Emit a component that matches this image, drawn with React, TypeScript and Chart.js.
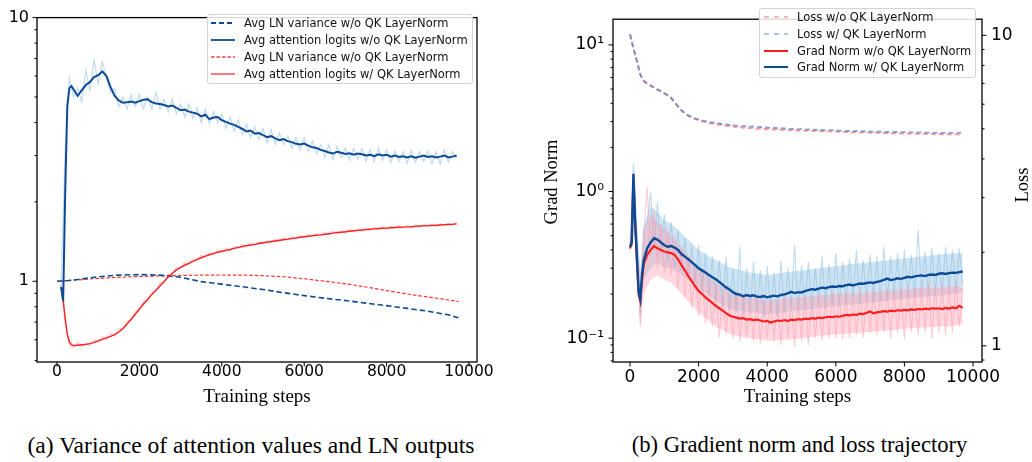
import React, { useEffect, useRef } from 'react';
import { Chart, registerables } from 'chart.js';

Chart.register(...registerables);

// ---------------- shared ----------------
const X_TICKS = [0, 2000, 4000, 6000, 8000, 10000];

// ---------------- panel (a) data ----------------
const A_Y_MAJOR = [1, 10];
const A_Y_LABELS = ['1', '10'];
const A_Y_MINOR = [0.5, 0.6, 0.7, 0.8, 0.9, 2, 3, 4, 5, 6, 7, 8, 9];

const LN_VAR_STEPS = [0, 250, 500, 1000, 1500, 2000, 2500, 3000, 3500, 4000, 4500, 5000, 5500, 6000, 6500, 7000, 7500, 8000, 8500, 9000, 9500, 9750];
const LN_VAR_WO_BLUE = [1.0, 1.005, 1.015, 1.04, 1.055, 1.06, 1.055, 1.035, 0.997, 0.975, 0.953, 0.93, 0.905, 0.882, 0.862, 0.845, 0.826, 0.808, 0.789, 0.77, 0.746, 0.726];
const LN_VAR_WO_RED = [1.0, 1.006, 1.012, 1.025, 1.035, 1.043, 1.048, 1.052, 1.055, 1.056, 1.055, 1.05, 1.04, 1.022, 1.0, 0.978, 0.951, 0.922, 0.895, 0.872, 0.849, 0.837];

const ATT_HEAD_STEPS = [100, 150, 200, 250, 300, 350];
const ATT_TAIL_START = 400;
const ATT_WO_HEAD = [0.95, 0.84, 2.2, 4.6, 5.4, 5.5];
const ATT_WO_TAIL = [
  5.35, 5.05, 5.3, 5.55, 5.7, 5.95, 6.05, 6.25, 6.0, 5.45,
  5.05, 4.85, 4.75, 4.77, 4.8, 4.76, 4.82, 4.88, 4.9, 4.78,
  4.72, 4.7, 4.66, 4.6, 4.64, 4.55, 4.45, 4.48, 4.4, 4.36,
  4.32, 4.22, 4.28, 4.12, 4.18, 4.2, 4.08, 4.02, 3.96, 3.92,
  3.85, 3.78, 3.7, 3.73, 3.63, 3.65, 3.58, 3.52, 3.55, 3.48,
  3.43, 3.46, 3.4, 3.37, 3.32, 3.3, 3.33, 3.27, 3.22, 3.2,
  3.15, 3.12, 3.08, 3.05, 3.1, 3.07, 3.04, 3.06, 3.02, 3.05,
  3.03, 3.0, 3.02, 2.98, 3.03, 3.0, 3.02, 2.97, 3.0, 2.96,
  2.98, 2.95, 2.98, 2.94, 2.97, 3.0, 2.96, 2.98, 2.95, 2.97,
  3.0, 2.95, 2.97, 3.0,
];
const ATT_W_HEAD = [0.95, 0.85, 0.72, 0.63, 0.59, 0.575];
const ATT_W_TAIL = [
  0.57, 0.572, 0.574, 0.576, 0.58, 0.586, 0.594, 0.602, 0.61, 0.618,
  0.627, 0.642, 0.662, 0.688, 0.718, 0.75, 0.785, 0.82, 0.855, 0.89,
  0.925, 0.96, 0.998, 1.038, 1.073, 1.104, 1.13, 1.15, 1.17, 1.19,
  1.21, 1.228, 1.245, 1.26, 1.275, 1.288, 1.3, 1.31, 1.32, 1.333,
  1.345, 1.355, 1.365, 1.372, 1.38, 1.39, 1.4, 1.405, 1.415, 1.422,
  1.43, 1.437, 1.445, 1.452, 1.46, 1.468, 1.475, 1.482, 1.49, 1.495,
  1.5, 1.508, 1.515, 1.522, 1.53, 1.535, 1.54, 1.548, 1.555, 1.56,
  1.565, 1.57, 1.575, 1.58, 1.585, 1.588, 1.59, 1.595, 1.6, 1.602,
  1.605, 1.608, 1.61, 1.615, 1.62, 1.622, 1.625, 1.628, 1.63, 1.635,
  1.64, 1.642, 1.645, 1.65,
];
const ATT_RAW_START = 100;
const ATT_WO_RAW = [
  0.95, 3.2, 5.9, 5.0, 5.4, 4.8, 6.3, 5.3, 6.9, 5.6,
  6.8, 6.0, 5.2, 5.4, 4.6, 5.0, 4.5, 5.1, 4.6, 5.1,
  4.5, 5.0, 4.5, 5.2, 4.5, 4.9, 4.4, 4.9, 4.3, 4.7,
  4.2, 4.7, 4.15, 4.55, 4.0, 4.5, 3.95, 4.4, 4.0, 4.3,
  3.8, 4.2, 3.7, 4.1, 3.6, 3.95, 3.5, 3.85, 3.45, 3.8,
  3.35, 3.75, 3.3, 3.65, 3.3, 3.55, 3.2, 3.5, 3.15, 3.5,
  3.1, 3.4, 3.05, 3.3, 2.95, 3.3, 2.9, 3.25, 2.95, 3.2,
  2.88, 3.2, 2.9, 3.18, 2.85, 3.15, 2.85, 3.2, 2.87, 3.15,
  2.82, 3.12, 2.85, 3.1, 2.8, 3.12, 2.82, 3.1, 2.85, 3.12,
  2.8, 3.1, 2.78, 3.15, 2.82, 3.1, 2.9,
];
const ATT_W_RAW = [
  0.97, 0.7, 0.57, 0.56, 0.585, 0.565, 0.585, 0.57, 0.6, 0.585,
  0.615, 0.6, 0.635, 0.62, 0.66, 0.655, 0.705, 0.71, 0.765, 0.775,
  0.84, 0.845, 0.91, 0.915, 0.985, 0.99, 1.065, 1.06, 1.13, 1.115,
  1.175, 1.155, 1.215, 1.195, 1.255, 1.23, 1.285, 1.26, 1.315, 1.285,
  1.335, 1.305, 1.36, 1.33, 1.38, 1.35, 1.395, 1.37, 1.41, 1.385,
  1.43, 1.4, 1.445, 1.415, 1.46, 1.43, 1.475, 1.445, 1.49, 1.46,
  1.505, 1.475, 1.515, 1.49, 1.53, 1.5, 1.545, 1.515, 1.555, 1.525,
  1.57, 1.54, 1.58, 1.55, 1.59, 1.56, 1.6, 1.57, 1.61, 1.575,
  1.615, 1.585, 1.625, 1.59, 1.63, 1.595, 1.635, 1.6, 1.64, 1.61,
  1.645, 1.615, 1.65, 1.62, 1.66, 1.63, 1.67,
];

// ---------------- panel (b) data ----------------
const B_GN_MAJOR = [0.1, 1, 10];
const B_GN_LABELS = ['10\u207B\u00B9', '10\u2070', '10\u00B9'];
const B_GN_MINOR = [0.07, 0.08, 0.09, 0.2, 0.3, 0.4, 0.5, 0.6, 0.7, 0.8, 0.9, 2, 3, 4, 5, 6, 7, 8, 9];
const B_LOSS_MAJOR = [1, 10];
const B_LOSS_LABELS = ['1', '10'];
const B_LOSS_MINOR = [0.9, 2, 3, 4, 5, 6, 7, 8, 9];

const LOSS_START = 0;
const LOSS_WO = [
  10.1, 9.1, 8.3, 7.5, 7.15, 7.0, 6.9, 6.8, 6.7, 6.62,
  6.52, 6.42, 6.3, 6.1, 5.9, 5.72, 5.6, 5.5, 5.43, 5.37,
  5.33, 5.28, 5.26, 5.21, 5.2, 5.16, 5.16, 5.12, 5.12, 5.09,
  5.09, 5.06, 5.07, 5.04, 5.05, 5.02, 5.03, 5.0, 5.01, 4.99,
  5.0, 4.97, 4.98, 4.96, 4.97, 4.95, 4.96, 4.94, 4.95, 4.93,
  4.95, 4.93, 4.94, 4.92, 4.93, 4.91, 4.92, 4.9, 4.91, 4.9,
  4.9, 4.89, 4.89, 4.88, 4.88, 4.87, 4.88, 4.86, 4.87, 4.86,
  4.86, 4.85, 4.86, 4.84, 4.85, 4.84, 4.84, 4.83, 4.84, 4.83,
  4.83, 4.82, 4.83, 4.82, 4.82, 4.81, 4.82, 4.81, 4.81, 4.8,
  4.81, 4.8, 4.8, 4.8, 4.79, 4.8, 4.79, 4.8,
];
const LOSS_W = [
  10.05, 9.05, 8.25, 7.45, 7.12, 6.98, 6.88, 6.78, 6.68, 6.6,
  6.5, 6.4, 6.28, 6.08, 5.9, 5.74, 5.62, 5.53, 5.46, 5.4,
  5.36, 5.32, 5.29, 5.26, 5.24, 5.21, 5.2, 5.17, 5.17, 5.14,
  5.14, 5.12, 5.12, 5.1, 5.1, 5.08, 5.09, 5.06, 5.07, 5.05,
  5.05, 5.03, 5.04, 5.02, 5.02, 5.01, 5.01, 4.99, 5.0, 4.98,
  4.99, 4.97, 4.98, 4.96, 4.97, 4.95, 4.96, 4.94, 4.95, 4.94,
  4.94, 4.93, 4.93, 4.92, 4.92, 4.91, 4.92, 4.9, 4.91, 4.9,
  4.9, 4.89, 4.9, 4.89, 4.89, 4.88, 4.89, 4.88, 4.88, 4.87,
  4.88, 4.87, 4.87, 4.87, 4.86, 4.87, 4.86, 4.86, 4.86, 4.85,
  4.86, 4.85, 4.86, 4.85, 4.85, 4.86, 4.85, 4.87,
];

const GN_HEAD_STEPS = [0, 50, 100, 150, 200, 250, 300, 350];
const GN_TAIL_START = 400;
const GN_W_HEAD = [0.42, 0.45, 1.32, 0.62, 0.36, 0.21, 0.185, 0.27];
const GN_W_TAIL = [
  0.34, 0.41, 0.45, 0.48, 0.47, 0.45, 0.43, 0.42, 0.425, 0.415,
  0.4, 0.375, 0.36, 0.345, 0.33, 0.315, 0.3, 0.29, 0.28, 0.27,
  0.26, 0.252, 0.242, 0.232, 0.222, 0.215, 0.206, 0.2, 0.198, 0.193,
  0.197, 0.194, 0.196, 0.192, 0.191, 0.194, 0.19, 0.193, 0.195, 0.193,
  0.197, 0.199, 0.202, 0.207, 0.203, 0.206, 0.205, 0.209, 0.213, 0.216,
  0.214, 0.218, 0.221, 0.219, 0.223, 0.225, 0.224, 0.227, 0.226, 0.23,
  0.232, 0.229, 0.233, 0.236, 0.235, 0.238, 0.24, 0.238, 0.242, 0.245,
  0.25, 0.255, 0.249, 0.252, 0.256, 0.254, 0.258, 0.262, 0.26, 0.264,
  0.266, 0.268, 0.265, 0.27, 0.272, 0.27, 0.275, 0.277, 0.274, 0.278,
  0.28, 0.279, 0.282, 0.285,
];
const GN_WO_HEAD = [0.41, 0.44, 1.2, 0.6, 0.34, 0.2, 0.18, 0.25];
const GN_WO_TAIL = [
  0.32, 0.37, 0.4, 0.425, 0.41, 0.4, 0.39, 0.385, 0.38, 0.37,
  0.345, 0.315, 0.29, 0.265, 0.245, 0.226, 0.21, 0.2, 0.19, 0.182,
  0.174, 0.166, 0.16, 0.154, 0.148, 0.143, 0.14, 0.138, 0.136, 0.137,
  0.134, 0.135, 0.133, 0.134, 0.132, 0.13, 0.131, 0.128, 0.13, 0.132,
  0.131, 0.133, 0.131, 0.134, 0.133, 0.135, 0.134, 0.136, 0.135, 0.137,
  0.136, 0.138, 0.137, 0.139, 0.14, 0.139, 0.141, 0.14, 0.142, 0.144,
  0.143, 0.145, 0.144, 0.147, 0.146, 0.149, 0.152, 0.148, 0.15, 0.151,
  0.153, 0.152, 0.154, 0.153, 0.155, 0.154, 0.156, 0.155, 0.157, 0.156,
  0.158, 0.157, 0.159, 0.158, 0.16, 0.159, 0.16, 0.158, 0.161, 0.159,
  0.162, 0.16, 0.166, 0.161,
];
const GN_RAW_START = 0;
const GN_W_RAW = [
  0.42, 1.55, 0.5, 0.14, 0.55, 0.62, 1.0, 0.4, 0.85, 0.38,
  0.7, 0.33, 0.62, 0.3, 0.55, 0.29, 0.48, 0.26, 0.42, 0.24,
  0.43, 0.21, 0.38, 0.2, 0.36, 0.18, 0.34, 0.16, 0.36, 0.155,
  0.3, 0.15, 0.42, 0.14, 0.3, 0.145, 0.33, 0.15, 0.29, 0.14,
  0.31, 0.15, 0.28, 0.14, 0.34, 0.15, 0.3, 0.16, 0.43, 0.15,
  0.31, 0.16, 0.33, 0.155, 0.3, 0.17, 0.36, 0.16, 0.32, 0.17,
  0.38, 0.165, 0.33, 0.17, 0.35, 0.18, 0.4, 0.17, 0.34, 0.18,
  0.37, 0.175, 0.36, 0.18, 0.42, 0.18, 0.36, 0.19, 0.38, 0.185,
  0.4, 0.19, 0.37, 0.19, 0.55, 0.2, 0.39, 0.19, 0.41, 0.2,
  0.38, 0.2, 0.42, 0.21, 0.4, 0.2, 0.41, 0.23,
];
const GN_WO_RAW = [
  0.4, 1.2, 0.45, 0.12, 0.5, 1.08, 0.35, 0.75, 0.3, 0.6,
  0.28, 0.55, 0.27, 0.5, 0.22, 0.42, 0.19, 0.36, 0.16, 0.3,
  0.14, 0.28, 0.125, 0.24, 0.12, 0.23, 0.1, 0.2, 0.105, 0.19,
  0.1, 0.2, 0.095, 0.19, 0.1, 0.18, 0.095, 0.19, 0.092, 0.18,
  0.1, 0.19, 0.095, 0.18, 0.09, 0.2, 0.1, 0.18, 0.088, 0.19,
  0.095, 0.2, 0.09, 0.19, 0.1, 0.2, 0.096, 0.19, 0.1, 0.21,
  0.1, 0.2, 0.098, 0.21, 0.1, 0.2, 0.105, 0.22, 0.1, 0.21,
  0.11, 0.22, 0.105, 0.21, 0.11, 0.22, 0.1, 0.21, 0.11, 0.22,
  0.098, 0.23, 0.11, 0.22, 0.105, 0.23, 0.11, 0.24, 0.1, 0.23,
  0.11, 0.24, 0.105, 0.23, 0.11, 0.25, 0.12, 0.22,
];
// typical spread (envelope) of the raw grad-norm traces
const GN_ENV_STEPS = [0, 100, 200, 300, 400, 600, 800, 1000, 1200, 1500, 2000, 2500, 3000, 3500, 4000, 4500, 5000, 5500, 6000, 6500, 7000, 7500, 8000, 8500, 9000, 9500, 9700];
const GN_W_UPPER = [0.43, 1.5, 0.6, 0.3, 0.58, 0.8, 0.72, 0.64, 0.6, 0.52, 0.4, 0.34, 0.3, 0.28, 0.27, 0.28, 0.29, 0.3, 0.31, 0.32, 0.33, 0.34, 0.35, 0.36, 0.37, 0.38, 0.38];
const GN_W_LOWER = [0.41, 1.0, 0.35, 0.14, 0.25, 0.3, 0.33, 0.3, 0.3, 0.27, 0.22, 0.18, 0.155, 0.15, 0.145, 0.15, 0.155, 0.16, 0.165, 0.17, 0.175, 0.18, 0.185, 0.19, 0.195, 0.2, 0.21];
const GN_WO_UPPER = [0.42, 1.2, 0.5, 0.25, 0.52, 0.7, 0.62, 0.56, 0.5, 0.42, 0.3, 0.24, 0.2, 0.19, 0.18, 0.185, 0.19, 0.195, 0.2, 0.2, 0.205, 0.21, 0.215, 0.22, 0.22, 0.225, 0.22];
const GN_WO_LOWER = [0.4, 0.9, 0.3, 0.12, 0.2, 0.25, 0.27, 0.25, 0.24, 0.2, 0.15, 0.12, 0.105, 0.1, 0.096, 0.097, 0.1, 0.103, 0.106, 0.108, 0.11, 0.113, 0.116, 0.118, 0.12, 0.122, 0.125];

// ---------------- colours ----------------
const DARK_BLUE = '#0d4a96';
const RED = '#ff1f1f';
const LIGHT_BLUE_BAND = 'rgba(150,195,230,0.6)';
const PINK_BAND = 'rgba(255,165,180,0.55)';
const GN_BLUE_RAW = 'rgba(140,190,225,0.55)';
const GN_PINK_RAW = 'rgba(255,160,178,0.55)';
const GN_BLUE_FILL = 'rgba(140,190,225,0.42)';
const GN_PINK_FILL = 'rgba(255,160,178,0.42)';
const LOSS_PINK = 'rgba(255,90,90,0.6)';
const LOSS_BLUE = 'rgba(60,110,190,0.6)';

// ---------------- helpers ----------------
const seq = (start: number, stride: number, n: number) => Array.from({ length: n }, (_, i) => start + i * stride);
const toPoints = (steps: number[], vals: number[]) => vals.map((y, i) => ({ x: steps[i], y }));
const headTail = (hs: number[], hv: number[], start: number, tv: number[]) =>
  toPoints([...hs, ...seq(start, 100, tv.length)], [...hv, ...tv]);
const uniform = (start: number, vals: number[]) => toPoints(seq(start, 100, vals.length), vals);

type TickSpec = { id: string; side: 'left' | 'right' | 'bottom'; major: number[]; minor: number[] };

const makeFramePlugin = (specs: TickSpec[]) => ({
  id: 'frameTicks',
  afterDraw(chart: any) {
    const { ctx, chartArea: a } = chart;
    ctx.save();
    ctx.strokeStyle = '#000';
    ctx.lineWidth = 1;
    for (const s of specs) {
      const scale = chart.scales[s.id];
      const draw = (v: number, len: number) => {
        const p = scale.getPixelForValue(v);
        if (s.side === 'bottom') {
          if (p < a.left - 0.5 || p > a.right + 0.5) return;
          ctx.beginPath();
          ctx.moveTo(p, a.bottom);
          ctx.lineTo(p, a.bottom + len);
          ctx.stroke();
        } else {
          if (p < a.top - 0.5 || p > a.bottom + 0.5) return;
          ctx.beginPath();
          if (s.side === 'left') {
            ctx.moveTo(a.left, p);
            ctx.lineTo(a.left - len, p);
          } else {
            ctx.moveTo(a.right, p);
            ctx.lineTo(a.right + len, p);
          }
          ctx.stroke();
        }
      };
      s.major.forEach((v) => draw(v, 4.5));
      s.minor.forEach((v) => draw(v, 2.5));
    }
    ctx.lineWidth = 1.3;
    ctx.strokeRect(a.left, a.top, a.right - a.left, a.bottom - a.top);
    ctx.restore();
  },
});

const tickFont = (size: number) => ({ family: 'DejaVu Sans', size });
const titleFont = { family: 'Liberation Serif', size: 19 };

const xScale = (min: number, max: number, fontSize: number, pad: number) => ({
  type: 'linear',
  min,
  max,
  afterBuildTicks: (s: any) => {
    s.ticks = X_TICKS.map((v) => ({ value: v }));
  },
  afterFit: (s: any) => {
    s.height = 58;
  },
  grid: { display: false, drawTicks: false },
  border: { display: false },
  ticks: {
    autoSkip: false,
    maxRotation: 0,
    padding: pad,
    color: '#000',
    font: tickFont(fontSize),
    callback: (v: any) => String(v),
  },
  title: {
    display: true,
    text: 'Training steps',
    color: '#000',
    font: titleFont,
    padding: { top: 0, bottom: 11.5 },
  },
});

const logScale = (
  min: number,
  max: number,
  major: number[],
  labels: string[],
  width: number,
  position: string,
  fontSize: number,
  pad: number,
) => ({
  type: 'logarithmic',
  position,
  min,
  max,
  afterBuildTicks: (s: any) => {
    s.ticks = major.map((v) => ({ value: v }));
  },
  afterFit: (s: any) => {
    s.width = width;
  },
  grid: { display: false, drawTicks: false },
  border: { display: false },
  ticks: {
    autoSkip: false,
    padding: pad,
    color: '#000',
    font: tickFont(fontSize),
    callback: (v: any) => {
      const i = major.indexOf(Number(v));
      return i >= 0 ? labels[i] : '';
    },
  },
});

const line = (data: any[], color: string, width: number, order: number, dash: number[] = [], yAxisID = 'y') => ({
  data,
  borderColor: color,
  backgroundColor: color,
  borderWidth: width,
  borderDash: dash,
  pointRadius: 0,
  tension: 0,
  fill: false,
  order,
  yAxisID,
});

const band = (steps: number[], upper: number[], lower: number[], color: string, order: number) => [
  {
    data: toPoints(steps, upper),
    borderWidth: 0,
    borderColor: 'rgba(0,0,0,0)',
    backgroundColor: color,
    pointRadius: 0,
    tension: 0,
    fill: '+1',
    order,
    yAxisID: 'y',
  },
  {
    data: toPoints(steps, lower),
    borderWidth: 0,
    borderColor: 'rgba(0,0,0,0)',
    backgroundColor: 'rgba(0,0,0,0)',
    pointRadius: 0,
    tension: 0,
    fill: false,
    order,
    yAxisID: 'y',
  },
];

// ---------------- legend (HTML) ----------------
type LegendRow = { label: string; color: string; dash: number[]; width: number };
const A_LEGEND: LegendRow[] = [
  { label: 'Avg LN variance w/o QK LayerNorm', color: DARK_BLUE, dash: [5, 3], width: 1.8 },
  { label: 'Avg attention logits w/o QK LayerNorm', color: DARK_BLUE, dash: [], width: 1.8 },
  { label: 'Avg LN variance w/o QK LayerNorm', color: '#ff4040', dash: [3.5, 2], width: 1.3 },
  { label: 'Avg attention logits w/ QK LayerNorm', color: '#ff5a5a', dash: [], width: 1.6 },
];
const B_LEGEND: LegendRow[] = [
  { label: 'Loss w/o QK LayerNorm', color: '#ff9a9a', dash: [5, 5], width: 1.5 },
  { label: 'Loss w/ QK LayerNorm', color: '#8fadd8', dash: [5, 5], width: 1.5 },
  { label: 'Grad Norm w/o QK LayerNorm', color: RED, dash: [], width: 2 },
  { label: 'Grad Norm w/ QK LayerNorm', color: DARK_BLUE, dash: [], width: 2 },
];

function Legend(props: {
  left: number;
  top: number;
  width: number;
  height: number;
  rows: LegendRow[];
  firstY: number;
  gap: number;
  sampleX: number;
  textX: number;
}) {
  const { left, top, width, height, rows, firstY, gap, sampleX, textX } = props;
  return (
    <div
      style={{
        position: 'absolute',
        left,
        top,
        width,
        height,
        boxSizing: 'border-box',
        border: '1px solid #d4d4d4',
        borderRadius: 3,
        background: 'rgba(255,255,255,0.85)',
      }}
    >
      {rows.map((r, i) => {
        const cy = firstY + i * gap - 1;
        return (
          <React.Fragment key={i}>
            <svg width={24} height={6} style={{ position: 'absolute', left: sampleX - 1, top: cy - 3 }}>
              <line
                x1={0}
                y1={3}
                x2={24}
                y2={3}
                stroke={r.color}
                strokeWidth={r.width}
                strokeDasharray={r.dash.length ? r.dash.join(' ') : undefined}
              />
            </svg>
            <div
              style={{
                position: 'absolute',
                left: textX - 1,
                top: cy - 8,
                height: 16,
                lineHeight: '16px',
                fontFamily: 'DejaVu Sans',
                fontSize: 11.5,
                color: '#111',
                whiteSpace: 'nowrap',
              }}
            >
              {r.label}
            </div>
          </React.Fragment>
        );
      })}
    </div>
  );
}

export default function App() {
  const leftRef = useRef<HTMLCanvasElement | null>(null);
  const rightRef = useRef<HTMLCanvasElement | null>(null);

  useEffect(() => {
    const common = {
      responsive: false,
      animation: false,
      events: [],
      plugins: { legend: { display: false }, tooltip: { enabled: false } },
    };

    const left = new Chart(leftRef.current as HTMLCanvasElement, {
      type: 'line',
      data: {
        datasets: [
          line(headTail(ATT_HEAD_STEPS, ATT_WO_HEAD, ATT_TAIL_START, ATT_WO_TAIL), DARK_BLUE, 2, 0),
          line(headTail(ATT_HEAD_STEPS, ATT_W_HEAD, ATT_TAIL_START, ATT_W_TAIL), RED, 1.4, 1),
          line(toPoints(LN_VAR_STEPS, LN_VAR_WO_BLUE), DARK_BLUE, 1.6, 2, [5.5, 3]),
          line(toPoints(LN_VAR_STEPS, LN_VAR_WO_RED), '#ff3030', 1.2, 3, [3.5, 2]),
          line(uniform(ATT_RAW_START, ATT_W_RAW), PINK_BAND, 1.4, 4),
          line(uniform(ATT_RAW_START, ATT_WO_RAW), LIGHT_BLUE_BAND, 1.2, 5),
        ],
      },
      options: {
        ...common,
        layout: { padding: { top: 8, right: 33, left: 0, bottom: 0 } },
        scales: {
          x: xScale(-485, 10194, 15.5, 1),
          y: logScale(0.494, 10, A_Y_MAJOR, A_Y_LABELS, 37, 'left', 16, 8),
        },
      },
      plugins: [
        makeFramePlugin([
          { id: 'x', side: 'bottom', major: X_TICKS, minor: [] },
          { id: 'y', side: 'left', major: A_Y_MAJOR, minor: A_Y_MINOR },
        ]),
      ],
    } as any);

    const right = new Chart(rightRef.current as HTMLCanvasElement, {
      type: 'line',
      data: {
        datasets: [
          line(headTail(GN_HEAD_STEPS, GN_W_HEAD, GN_TAIL_START, GN_W_TAIL), DARK_BLUE, 2.4, 0),
          line(headTail(GN_HEAD_STEPS, GN_WO_HEAD, GN_TAIL_START, GN_WO_TAIL), RED, 2.2, 1),
          line(uniform(LOSS_START, LOSS_W), LOSS_BLUE, 1.9, 2, [5, 3], 'y2'),
          line(uniform(LOSS_START, LOSS_WO), LOSS_PINK, 1.9, 3, [5, 3], 'y2'),
          line(uniform(GN_RAW_START, GN_WO_RAW), GN_PINK_RAW, 1.1, 4),
          line(uniform(GN_RAW_START, GN_W_RAW), GN_BLUE_RAW, 1.1, 5),
          ...band(GN_ENV_STEPS, GN_WO_UPPER, GN_WO_LOWER, GN_PINK_FILL, 6),
          ...band(GN_ENV_STEPS, GN_W_UPPER, GN_W_LOWER, GN_BLUE_FILL, 7),
        ],
      },
      options: {
        ...common,
        layout: { padding: { top: 2, right: 10, left: 0, bottom: 0 } },
        scales: {
          x: xScale(-496, 10262, 17, 5),
          y: logScale(0.0688, 14.97, B_GN_MAJOR, B_GN_LABELS, 93, 'left', 17, 9),
          y2: logScale(0.887, 11.27, B_LOSS_MAJOR, B_LOSS_LABELS, 40, 'right', 17, 9),
        },
      },
      plugins: [
        makeFramePlugin([
          { id: 'x', side: 'bottom', major: X_TICKS, minor: [] },
          { id: 'y', side: 'left', major: B_GN_MAJOR, minor: B_GN_MINOR },
          { id: 'y2', side: 'right', major: B_LOSS_MAJOR, minor: B_LOSS_MINOR },
        ]),
      ],
    } as any);

    return () => {
      left.destroy();
      right.destroy();
    };
  }, []);

  const serif = 'Liberation Serif';
  return (
    <div
      style={{
        position: 'absolute',
        left: 0,
        top: 0,
        width: 1032,
        height: 462,
        background: '#fff',
        overflow: 'hidden',
      }}
    >
      <div style={{ position: 'absolute', left: 0, top: 0, width: 510, height: 420 }}>
        <canvas ref={leftRef} width={510} height={420} style={{ width: 510, height: 420, display: 'block' }} />
      </div>
      <div style={{ position: 'absolute', left: 520, top: 0, width: 512, height: 420 }}>
        <canvas ref={rightRef} width={512} height={420} style={{ width: 512, height: 420, display: 'block' }} />
      </div>

      <Legend left={207} top={14} width={266} height={70} rows={A_LEGEND} firstY={9.3} gap={16.9} sampleX={4} textX={37} />
      <Legend left={759} top={8} width={217} height={70} rows={B_LEGEND} firstY={9.3} gap={16.7} sampleX={5} textX={38} />

      <div
        style={{
          position: 'absolute',
          left: 550.7 - 60,
          top: 181.7 - 12,
          width: 120,
          height: 24,
          lineHeight: '24px',
          textAlign: 'center',
          transform: 'rotate(-90deg)',
          fontFamily: serif,
          fontSize: 18.5,
          color: '#000',
          whiteSpace: 'nowrap',
        }}
      >
        Grad Norm
      </div>
      <div
        style={{
          position: 'absolute',
          left: 1022 - 40,
          top: 185 - 12,
          width: 80,
          height: 24,
          lineHeight: '24px',
          textAlign: 'center',
          transform: 'rotate(-90deg)',
          fontFamily: serif,
          fontSize: 18.5,
          color: '#000',
          whiteSpace: 'nowrap',
        }}
      >
        Loss
      </div>

      <div
        style={{
          position: 'absolute',
          left: 251 - 300,
          top: 433,
          width: 600,
          height: 26,
          lineHeight: '24px',
          textAlign: 'center',
          fontFamily: serif,
          fontSize: 23.6,
          color: '#000',
          whiteSpace: 'nowrap',
        }}
      >
        (a) Variance of attention values and LN outputs
      </div>
      <div
        style={{
          position: 'absolute',
          left: 799.5 - 300,
          top: 433,
          width: 600,
          height: 26,
          lineHeight: '24px',
          textAlign: 'center',
          fontFamily: serif,
          fontSize: 22.6,
          color: '#000',
          whiteSpace: 'nowrap',
        }}
      >
        (b) Gradient norm and loss trajectory
      </div>
    </div>
  );
}
